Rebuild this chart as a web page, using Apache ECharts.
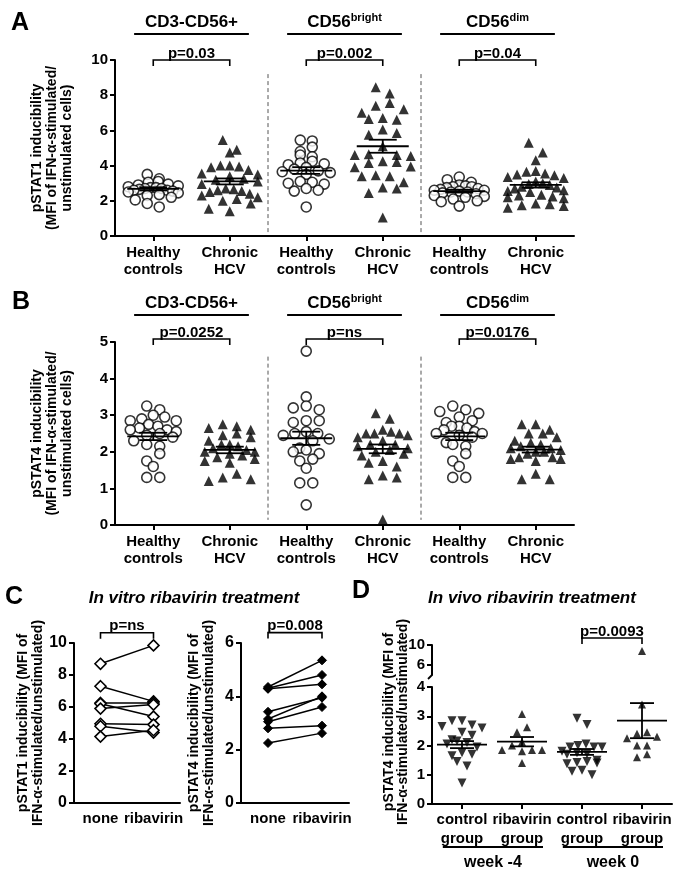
<!DOCTYPE html>
<html><head><meta charset="utf-8">
<script src="https://cdn.jsdelivr.net/npm/echarts@6/dist/echarts.min.js"></script>
<style>html,body{margin:0;padding:0;background:#fff}#c{width:684px;height:878px}</style>
</head><body><div id="c"></div>
<script>
const FONT = '"Liberation Sans", Arial, Helvetica, sans-serif';

// ---------- Panels A / B : categories & labels ----------
const catLabelsAB = ['Healthy\ncontrols','Chronic\nHCV','Healthy\ncontrols','Chronic\nHCV','Healthy\ncontrols','Chronic\nHCV'];
const subsetMain = ['CD3-CD56+','CD56','CD56'];
const subsetSup = ['','bright','dim'];
const pA = ['p=0.03','p=0.002','p=0.04'];
const pB = ['p=0.0252','p=ns','p=0.0176'];

// ---------- Panel A values (pSTAT1) ----------
const aCD3Healthy = [3.5,3.25,3.1,3.05,2.95,2.9,2.85,2.8,2.75,2.75,2.7,2.7,2.65,2.6,2.6,2.55,2.5,2.45,2.35,2.3,2.2,2.05,1.85,1.65];
const aCD3Hcv = [5.45,4.9,4.75,4.0,4.0,3.95,3.9,3.75,3.55,3.5,3.4,3.25,3.2,3.1,2.95,2.7,2.65,2.6,2.55,2.5,2.4,2.3,2.2,2.1,2.0,1.85,1.55,1.4];
const aBrightHealthy = [5.45,5.4,5.05,4.8,4.6,4.5,4.25,4.15,4.1,4.05,3.9,3.8,3.7,3.65,3.6,3.5,3.1,3.05,3.0,2.95,2.7,2.6,2.55,1.65];
const aBrightHcv = [8.45,8.1,7.55,7.4,7.2,7.0,6.7,6.6,6.65,6.05,5.85,5.75,5.1,4.65,4.6,4.6,4.55,4.25,4.2,4.15,3.95,3.9,3.45,3.4,3.4,3.05,2.75,2.7,2.45,1.05];
const aDimHealthy = [3.35,3.2,3.05,2.9,2.85,2.8,2.8,2.75,2.7,2.65,2.6,2.6,2.55,2.5,2.5,2.45,2.4,2.3,2.25,2.2,2.1,2.0,1.95,1.7];
const aDimHcv = [5.3,4.75,4.3,3.7,3.65,3.55,3.5,3.45,3.35,3.3,3.1,3.0,2.95,2.9,2.8,2.75,2.7,2.6,2.55,2.5,2.35,2.3,2.25,2.2,2.15,1.85,1.8,1.75,1.7,1.6];
const aMeans = [2.68,3.1,3.72,5.1,2.55,2.9];
const aSems  = [0.09,0.17,0.19,0.37,0.08,0.15];

// ---------- Panel B values (pSTAT4) ----------
const bCD3Healthy = [3.25,3.15,3.0,2.95,2.9,2.85,2.85,2.75,2.7,2.65,2.6,2.6,2.55,2.5,2.45,2.4,2.3,2.2,2.15,1.95,1.75,1.6,1.3,1.3];
const bCD3Hcv = [2.75,2.7,2.65,2.6,2.5,2.45,2.4,2.3,2.2,2.2,2.15,2.1,2.05,2.0,2.0,1.95,1.9,1.85,1.8,1.75,1.7,1.4,1.3,1.25,1.2];
const bBrightHealthy = [4.75,3.5,3.25,3.2,3.15,2.85,2.85,2.8,2.55,2.5,2.5,2.45,2.35,2.3,2.1,2.05,2.0,1.95,1.8,1.75,1.55,1.15,1.15,0.55];
const bBrightHcv = [3.05,2.9,2.6,2.55,2.5,2.5,2.5,2.45,2.4,2.3,2.2,2.2,2.15,2.1,2.05,2.0,1.95,1.9,1.75,1.7,1.6,1.35,1.3,1.25,0.15];
const bDimHealthy = [3.25,3.15,3.1,3.05,2.95,2.85,2.8,2.7,2.7,2.65,2.6,2.55,2.5,2.5,2.45,2.4,2.25,2.2,2.15,1.95,1.75,1.6,1.3,1.3];
const bDimHcv = [2.75,2.75,2.6,2.5,2.5,2.4,2.3,2.25,2.2,2.15,2.1,2.1,2.05,2.0,2.0,1.95,1.85,1.85,1.8,1.8,1.75,1.4,1.25,1.25];
const bMeans = [2.42,2.05,2.37,2.08,2.42,2.06];
const bSems  = [0.1,0.09,0.18,0.12,0.1,0.08];

// ---------- Panel C (in vitro, paired) ----------
const cCats = ['none','ribavirin'];
const cStat1None = [8.7,7.3,6.25,6.2,5.9,4.95,4.8,4.15];
const cStat1Riba = [9.85,6.35,6.25,5.4,6.15,4.9,4.4,4.55];
const cStat4None = [4.35,4.3,4.28,3.42,3.15,3.05,2.8,2.25];
const cStat4Riba = [5.35,4.8,4.45,3.95,4.0,3.6,2.9,2.62];

// ---------- Panel D (in vivo) ----------
const dCats = ['control\ngroup','ribavirin\ngroup','control\ngroup','ribavirin\ngroup'];
const dWeeks = ['week -4','week 0'];
const dCtrlWk4 = [2.85,2.85,2.7,2.65,2.6,2.45,2.35,2.2,2.15,2.1,2.05,1.95,1.75,1.7,1.65,1.45,1.3,0.72];
const dRibaWk4 = [3.08,2.62,2.45,2.12,2.0,1.85,1.85,1.85,1.8,1.4];
const dCtrlWk0 = [2.93,2.72,2.05,2.0,1.95,1.95,1.95,1.8,1.75,1.72,1.7,1.5,1.45,1.42,1.4,1.38,1.15,1.12,1.0];
const dRibaWk0 = [8.8,3.4,2.45,2.4,2.3,2.25,2.0,2.0,1.7,1.6];
const dMeans = [2.03,2.13,1.78,2.85];
const dSems  = [0.12,0.16,0.1,0.6];

// ---------- layout ----------
const G = {
  A: {left:115, top:60, width:459, height:176},
  B: {left:115, top:342, width:459, height:183},
  C1:{left:74, top:643, width:106, height:160},
  C2:{left:241, top:643, width:108, height:160},
  DL:{left:432, top:687, width:240, height:117},
  DU:{left:432, top:645, width:240, height:30}
};

// GraphPad-like row layout (computed from the values); rows are filled centre-out
function swarm(vals, pxY, binH, s, maxW) {
  const order = vals.map((v,i)=>i).sort((a,b)=>vals[b]-vals[a]);
  const out = new Array(vals.length);
  let bin = [], top = null, rowNo = 0;
  const flush = () => {
    const n = bin.length; if (!n) return;
    const sp = n>1 ? Math.min(s, maxW/(n-1)) : 0;
    const slots = Array.from({length:n}, (_,j)=>(j-(n-1)/2)*sp)
      .sort((p,q)=>Math.abs(p)-Math.abs(q) || (rowNo%2 ? q-p : p-q));
    bin.forEach((idx,j)=> out[idx] = slots[j]);
    bin = []; rowNo++;
  };
  order.forEach(i => {
    const y = vals[i]*pxY;
    if (top === null || top - y > binH) { flush(); top = y; }
    bin.push(i);
  });
  flush();
  return out;
}

const axisColor = '#000';
const txt = (size, weight) => ({fontFamily: FONT, fontSize: size, fontWeight: weight || 'bold', color: '#000'});

function valueXAxis(grid, n, labels, show) {
  const centers = Array.from({length:n}, (_,i)=>i+0.5);
  return {
    gridIndex: grid, type:'value', min:0, max:n, show: show !== false,
    splitLine:{show:false},
    axisLine:{lineStyle:{color:axisColor,width:2}},
    axisTick:{customValues:centers, length:5, lineStyle:{color:axisColor,width:2}},
    axisLabel: Object.assign({customValues:centers, formatter: v => labels[Math.floor(v)], margin:8, lineHeight:17}, txt(15))
  };
}
function valueYAxis(grid, min, max, interval, extra) {
  return Object.assign({
    gridIndex:grid, type:'value', min, max, interval,
    splitLine:{show:false},
    axisLine:{show:true, lineStyle:{color:axisColor,width:2}},
    axisTick:{show:true, length:5, lineStyle:{color:axisColor,width:2}},
    axisLabel: Object.assign({margin:7}, txt(15))
  }, extra || {});
}

const series = [];

function scatterGroups(xi, yi, groups, pxX, pxY, opts) {
  groups.forEach((vals, g) => {
    const o = opts[g];
    const offs = swarm(vals, pxY, o.binH, o.s, o.maxW);
    series.push({
      type:'scatter', xAxisIndex:xi, yAxisIndex:yi, silent:true, z:3,
      symbol:o.symbol, symbolSize:o.size, symbolRotate:o.rotate||0,
      itemStyle: o.open ? {color:'#fff', borderColor:'#000', borderWidth:1.6} : {color:'#000'},
      data: vals.map((v,i)=>[g+0.5+offs[i]/pxX, v])
    });
  });
}

function meanSeries(xi, yi, means, sems, W, w) {
  series.push({
    type:'custom', xAxisIndex:xi, yAxisIndex:yi, clip:false, silent:true, z:6,
    data: means.map((m,i)=>[i+0.5, m, sems[i]]),
    renderItem: (params, api) => {
      const x = api.value(0), m = api.value(1), s = api.value(2);
      const c = api.coord([x,m]), u = api.coord([x,m+s]), d = api.coord([x,m-s]);
      const st = {stroke:'#000', lineWidth:1.8};
      return {type:'group', children:[
        {type:'line', shape:{x1:c[0]-W,y1:c[1],x2:c[0]+W,y2:c[1]}, style:st},
        {type:'line', shape:{x1:u[0]-w,y1:u[1],x2:u[0]+w,y2:u[1]}, style:st},
        {type:'line', shape:{x1:d[0]-w,y1:d[1],x2:d[0]+w,y2:d[1]}, style:st},
        {type:'line', shape:{x1:u[0],y1:u[1],x2:d[0],y2:d[1]}, style:st}
      ]};
    }
  });
}

function annotSeries(xi, yi, items) {
  series.push({
    type:'custom', xAxisIndex:xi, yAxisIndex:yi, clip:false, silent:true, z:8,
    data: items.map(it => [it.x1 !== undefined ? it.x1 : it.x, it.y !== undefined ? it.y : it.y1]),
    renderItem: (params, api) => {
      const it = items[params.dataIndex];
      if (it.t === 'bracket') {
        const a = api.coord([it.x1, it.y]), b = api.coord([it.x2, it.y]);
        return {type:'group', children:[
          {type:'polyline', shape:{points:[[a[0],a[1]+6],[a[0],a[1]],[b[0],b[1]],[b[0],b[1]+6]]}, style:{stroke:'#000', lineWidth:1.6, fill:null}},
          {type:'text', style:{x:(a[0]+b[0])/2, y:a[1]+1, text:it.text, fontFamily:FONT, fontSize:15, fontWeight:'bold', fill:'#000', align:'center', verticalAlign:'bottom'}}
        ]};
      }
      if (it.t === 'header') {
        const a = api.coord([it.x1, it.y]), b = api.coord([it.x2, it.y]);
        return {type:'group', children:[
          {type:'line', shape:{x1:a[0],y1:a[1],x2:b[0],y2:b[1]}, style:{stroke:'#000', lineWidth:2}},
          {type:'text', style:{x:(a[0]+b[0])/2, y:a[1]-12, text: it.sup ? '{m|'+it.text+'}{s|'+it.sup+'}' : '{m|'+it.text+'}',
            align:'center', verticalAlign:'middle', fill:'#000',
            rich:{m:{fontFamily:FONT, fontSize:17, fontWeight:'bold', fill:'#000'},
                  s:{fontFamily:FONT, fontSize:11, fontWeight:'bold', fill:'#000', verticalAlign:'top', padding:[0,0,8,0]}}}}
        ]};
      }
      if (it.t === 'sep') {
        const a = api.coord([it.x, it.y1]), b = api.coord([it.x, it.y2]);
        return {type:'line', shape:{x1:a[0],y1:a[1],x2:b[0],y2:b[1]}, style:{stroke:'#555', lineWidth:1, lineDash:[4,3]}};
      }
      if (it.t === 'uline') {
        const a = api.coord([it.x1, it.y]), b = api.coord([it.x2, it.y]);
        return {type:'group', children:[
          {type:'line', shape:{x1:a[0],y1:a[1],x2:b[0],y2:b[1]}, style:{stroke:'#000', lineWidth:1.8}},
          {type:'text', style:{x:(a[0]+b[0])/2, y:a[1]+16, text:it.text, fontFamily:FONT, fontSize:16, fontWeight:'bold', fill:'#000', align:'center', verticalAlign:'middle'}}
        ]};
      }
      return null;
    }
  });
}

const pxXAB = G.A.width/6;
const circA = {symbol:'circle', size:10, open:true, binH:6, s:12, maxW:50};
const triA  = {symbol:'triangle', size:10, open:false, binH:10, s:14, maxW:56};
const circB = {symbol:'circle', size:10, open:true, binH:9, s:13, maxW:46};
const triB  = {symbol:'triangle', size:10, open:false, binH:9, s:14, maxW:50};

// Panel A
scatterGroups(0, 0, [aCD3Healthy,aCD3Hcv,aBrightHealthy,aBrightHcv,aDimHealthy,aDimHcv], pxXAB, G.A.height/10,
  [circA,triA,circA,triA,circA,triA]);
meanSeries(0, 0, aMeans, aSems, 26, 14);
annotSeries(0, 0, [
  ...subsetMain.map((t,i)=>({t:'header', x1:2*i+0.25, x2:2*i+1.75, y:11.48, text:t, sup:subsetSup[i]})),
  ...pA.map((t,i)=>({t:'bracket', x1:2*i+0.5, x2:2*i+1.5, y:10, text:t})),
  {t:'sep', x:2, y1:9.2, y2:0.2}, {t:'sep', x:4, y1:9.2, y2:0.2}
]);

// Panel B
scatterGroups(1, 1, [bCD3Healthy,bCD3Hcv,bBrightHealthy,bBrightHcv,bDimHealthy,bDimHcv], pxXAB, G.B.height/5,
  [circB,triB,circB,triB,circB,triB]);
meanSeries(1, 1, bMeans, bSems, 26, 14);
annotSeries(1, 1, [
  ...subsetMain.map((t,i)=>({t:'header', x1:2*i+0.25, x2:2*i+1.75, y:5.74, text:t, sup:subsetSup[i]})),
  ...pB.map((t,i)=>({t:'bracket', x1:2*i+0.5, x2:2*i+1.5, y:5.08, text:t})),
  {t:'sep', x:2, y1:4.6, y2:0.14}, {t:'sep', x:4, y1:4.6, y2:0.14}
]);

// Panel C
cStat1None.forEach((v,i)=>series.push({type:'line', xAxisIndex:2, yAxisIndex:2, silent:true, symbol:'diamond', symbolSize:11,
  itemStyle:{color:'#fff', borderColor:'#000', borderWidth:1.6}, lineStyle:{color:'#000', width:1.5},
  data:[v, cStat1Riba[i]]}));
cStat4None.forEach((v,i)=>series.push({type:'line', xAxisIndex:3, yAxisIndex:3, silent:true, symbol:'diamond', symbolSize:9,
  itemStyle:{color:'#000', borderColor:'#000'}, lineStyle:{color:'#000', width:1.5},
  data:[v, cStat4Riba[i]]}));
annotSeries(2, 2, [{t:'bracket', x1:0, x2:1, y:10.64, text:'p=ns'}]);
annotSeries(3, 3, [{t:'bracket', x1:0, x2:1, y:6.39, text:'p=0.008'}]);

// Panel D
const dGroups = [dCtrlWk4, dRibaWk4, dCtrlWk0, dRibaWk0];
const dPxX = G.DL.width/4, dPxY = G.DL.height/4;
const invTri = {symbol:'triangle', rotate:180, size:9, binH:8, s:10, maxW:40};
const upTri  = {symbol:'triangle', size:8, binH:8, s:10, maxW:40};
const dOpts = [invTri, upTri, invTri, upTri];
dGroups.forEach((vals,g) => {
  const o = dOpts[g];
  const low = vals.filter(v=>v<=4), high = vals.filter(v=>v>4);
  const offs = swarm(low, dPxY, o.binH, o.s, o.maxW);
  series.push({type:'scatter', xAxisIndex:4, yAxisIndex:4, silent:true, z:3, symbol:o.symbol, symbolSize:o.size,
    symbolRotate:o.rotate||0, itemStyle:{color:'#000'}, data: low.map((v,i)=>[g+0.5+offs[i]/dPxX, v])});
  if (high.length) series.push({type:'scatter', xAxisIndex:5, yAxisIndex:5, silent:true, z:3, symbol:o.symbol, symbolSize:o.size,
    symbolRotate:o.rotate||0, itemStyle:{color:'#000'}, data: high.map(v=>[g+0.5, v])});
});
meanSeries(4, 4, dMeans, dSems, 25, 12);
annotSeries(5, 5, [{t:'bracket', x1:2.5, x2:3.5, y:11.4, text:'p=0.0093'}]);
annotSeries(4, 4, dWeeks.map((w,i)=>({t:'uline', x1:2*i+0.18, x2:2*i+1.85, y:-1.47, text:w})));

const yName = (name, gap) => ({name, nameLocation:'middle', nameGap:gap, nameRotate:90,
  nameTextStyle:Object.assign({lineHeight:15, align:'center'}, txt(14))});

const catX = (grid) => ({gridIndex:grid, type:'category', data:cCats, axisLine:{lineStyle:{color:axisColor,width:2}},
  axisTick:{alignWithLabel:true, length:5, lineStyle:{color:axisColor,width:2}},
  axisLabel:Object.assign({margin:8, interval:0, hideOverlap:false}, txt(15))});

const option = {
  animation:false,
  backgroundColor:'#fff',
  grid:[G.A,G.B,G.C1,G.C2,G.DL,G.DU].map(g=>({left:g.left, top:g.top, width:g.width, height:g.height, containLabel:false})),
  xAxis:[
    valueXAxis(0, 6, catLabelsAB),
    valueXAxis(1, 6, catLabelsAB),
    catX(2),
    catX(3),
    Object.assign(valueXAxis(4, 4, dCats), {axisLabel:Object.assign({customValues:[0.5,1.5,2.5,3.5], formatter:v=>dCats[Math.floor(v)], margin:6, lineHeight:19}, txt(15))}),
    valueXAxis(5, 4, dCats, false)
  ],
  yAxis:[
    valueYAxis(0, 0, 10, 2, yName('pSTAT1 inducibility\n(MFI of IFN-α-stimulated/\nunstimulated cells)', 40)),
    valueYAxis(1, 0, 5, 1, yName('pSTAT4 inducibility\n(MFI of IFN-α-stimulated/\nunstimulated cells)', 40)),
    valueYAxis(2, 0, 10, 2, Object.assign(yName('pSTAT1 inducibility (MFI of\nIFN-α-stimulated/unstimulated)', 21), {axisLabel:Object.assign({margin:7}, txt(16))})),
    valueYAxis(3, 0, 6, 2, Object.assign(yName('pSTAT4 inducibility (MFI of\nIFN-α-stimulated/unstimulated)', 24), {axisLabel:Object.assign({margin:7}, txt(16))})),
    valueYAxis(4, 0, 4, 1),
    {gridIndex:5, type:'value', min:4, max:10, splitLine:{show:false},
      axisLine:{show:true, lineStyle:{color:axisColor,width:2}},
      axisTick:{show:true, customValues:[6,10], length:5, lineStyle:{color:axisColor,width:2}},
      axisLabel:Object.assign({customValues:[6,10], margin:7}, txt(15))}
  ],
  graphic:[
    {type:'text', x:11, y:23, style:{text:'A', fontFamily:FONT, fontSize:25, fontWeight:'bold', fill:'#000', verticalAlign:'middle'}},
    {type:'text', x:12, y:302, style:{text:'B', fontFamily:FONT, fontSize:25, fontWeight:'bold', fill:'#000', verticalAlign:'middle'}},
    {type:'text', x:5, y:597, style:{text:'C', fontFamily:FONT, fontSize:25, fontWeight:'bold', fill:'#000', verticalAlign:'middle'}},
    {type:'text', x:352, y:591, style:{text:'D', fontFamily:FONT, fontSize:25, fontWeight:'bold', fill:'#000', verticalAlign:'middle'}},
    {type:'text', x:194, y:598, style:{text:'In vitro ribavirin treatment', fontFamily:FONT, fontSize:17, fontWeight:'bold', fontStyle:'italic', fill:'#000', align:'center', verticalAlign:'middle'}},
    {type:'text', x:532, y:598, style:{text:'In vivo ribavirin treatment', fontFamily:FONT, fontSize:17, fontWeight:'bold', fontStyle:'italic', fill:'#000', align:'center', verticalAlign:'middle'}},
    {type:'text', x:396, y:722, rotation:Math.PI/2, style:{text:'pSTAT4 inducibility (MFI of\nIFN-α-stimulated/unstimulated)', fontFamily:FONT, fontSize:14, fontWeight:'bold', lineHeight:14, fill:'#000', align:'center', verticalAlign:'middle'}},
    {type:'line', shape:{x1:432, y1:675, x2:428, y2:679}, style:{stroke:'#000', lineWidth:1.8}}
  ],
  series
};

const chart = echarts.init(document.getElementById('c'), null, {renderer:'canvas'});
chart.setOption(option);
</script>
</body></html>
